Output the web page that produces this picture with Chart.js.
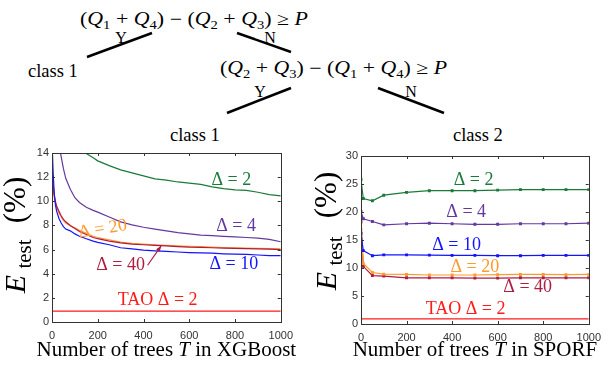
<!DOCTYPE html>
<html>
<head>
<meta charset="utf-8">
<script src="https://cdn.jsdelivr.net/npm/chart.js@4.4.1/dist/chart.umd.min.js"></script>
<style>
  body { margin: 0; background: #fff; width: 608px; height: 367px; overflow: hidden; position: relative; }
  #tree { position: absolute; left: 0; top: 0; }
  #c1 { position: absolute; left: 0; top: 140px; }
  #c2 { position: absolute; left: 300px; top: 140px; }
</style>
</head>
<body>
<svg id="tree" width="608" height="150" font-family="'Liberation Serif','Times New Roman',serif">
  <text x="80" y="25" font-size="18" textLength="228" lengthAdjust="spacingAndGlyphs">(<tspan font-style="italic">Q</tspan><tspan font-size="12" dy="4">1</tspan><tspan dy="-4"> + </tspan><tspan font-style="italic">Q</tspan><tspan font-size="12" dy="4">4</tspan><tspan dy="-4">) − (</tspan><tspan font-style="italic">Q</tspan><tspan font-size="12" dy="4">2</tspan><tspan dy="-4"> + </tspan><tspan font-style="italic">Q</tspan><tspan font-size="12" dy="4">3</tspan><tspan dy="-4">) ≥ </tspan><tspan font-style="italic">P</tspan></text>
  <text x="121" y="43" font-size="16" text-anchor="middle">Y</text>
  <text x="270" y="43" font-size="16" text-anchor="middle">N</text>
  <line x1="87" y1="57" x2="152" y2="33" stroke="#000" stroke-width="2.5"/>
  <line x1="237" y1="33" x2="291" y2="52" stroke="#000" stroke-width="2.5"/>
  <text x="28" y="77" font-size="18.5">class 1</text>
  <text x="220" y="74" font-size="18" textLength="227" lengthAdjust="spacingAndGlyphs">(<tspan font-style="italic">Q</tspan><tspan font-size="12" dy="4">2</tspan><tspan dy="-4"> + </tspan><tspan font-style="italic">Q</tspan><tspan font-size="12" dy="4">3</tspan><tspan dy="-4">) − (</tspan><tspan font-style="italic">Q</tspan><tspan font-size="12" dy="4">1</tspan><tspan dy="-4"> + </tspan><tspan font-style="italic">Q</tspan><tspan font-size="12" dy="4">4</tspan><tspan dy="-4">) ≥ </tspan><tspan font-style="italic">P</tspan></text>
  <text x="260" y="97" font-size="16" text-anchor="middle">Y</text>
  <text x="411" y="97" font-size="16" text-anchor="middle">N</text>
  <line x1="227" y1="113" x2="291" y2="88" stroke="#000" stroke-width="2.5"/>
  <line x1="378" y1="88" x2="444" y2="113" stroke="#000" stroke-width="2.5"/>
  <text x="170" y="141" font-size="18.5">class 1</text>
  <text x="453" y="141" font-size="18.5">class 2</text>
</svg>
<canvas id="c1" width="300" height="227"></canvas>
<canvas id="c2" width="308" height="227"></canvas>
<script>
// XGBoost panel
var xgbTrees = [1, 5, 10, 15, 20, 30, 40, 50, 60, 80, 100, 120, 150, 180, 200, 250, 300, 350, 400, 450, 500, 550, 600, 650, 700, 750, 800, 850, 900, 950, 1000];
var xgbD2 = [19.5, 19.2, 18.9, 18.6, 18.3, 17.7, 17.2, 16.8, 16.4, 15.7, 15.1, 14.6, 13.95, 13.6, 13.35, 12.95, 12.6, 12.35, 12.1, 11.85, 11.75, 11.6, 11.5, 11.4, 11.2, 11.05, 10.95, 10.9, 10.75, 10.55, 10.45];
var xgbD4 = [19.0, 18.5, 17.8, 17.1, 16.4, 14.8, 13.7, 12.7, 11.9, 11.0, 10.3, 9.9, 9.5, 9.25, 9.1, 8.7, 8.3, 8.05, 7.85, 7.7, 7.55, 7.4, 7.3, 7.2, 7.15, 7.1, 7.05, 7.0, 6.95, 6.85, 6.65];
var xgbD10 = [14.5, 12.4, 10.6, 9.7, 9.2, 8.6, 8.2, 7.9, 7.7, 7.55, 7.3, 7.1, 6.9, 6.7, 6.6, 6.4, 6.15, 6.05, 5.95, 5.9, 5.85, 5.8, 5.75, 5.72, 5.7, 5.65, 5.62, 5.6, 5.55, 5.5, 5.5];
var xgbD20 = [12.0, 11.0, 10.3, 9.9, 9.5, 9.05, 8.7, 8.4, 8.2, 7.95, 7.8, 7.6, 7.35, 7.1, 7.0, 6.8, 6.62, 6.52, 6.45, 6.4, 6.35, 6.3, 6.27, 6.24, 6.2, 6.17, 6.15, 6.12, 6.1, 6.08, 6.05];
var xgbD40 = [12.3, 11.3, 10.5, 10.0, 9.6, 9.2, 8.8, 8.5, 8.3, 8.0, 7.75, 7.5, 7.25, 7.0, 6.9, 6.7, 6.55, 6.45, 6.4, 6.35, 6.3, 6.25, 6.2, 6.18, 6.15, 6.12, 6.1, 6.08, 6.05, 6.03, 6.0];
var taoTrees = [0, 1000];
var xgbTao = [0.9, 0.9];

// SPORF panel
var sporfTrees = [0, 10, 50, 100, 200, 300, 400, 500, 600, 700, 800, 900, 1000];
var sporfD2 = [25.8, 22.4, 22.0, 23.0, 23.5, 23.8, 23.8, 23.8, 23.9, 24.0, 24.0, 24.0, 24.0];
var sporfD4 = [20.1, 18.8, 18.3, 17.7, 17.9, 18.0, 17.9, 17.8, 17.8, 17.9, 17.9, 17.9, 18.0];
var sporfD10 = [16.2, 13.1, 12.2, 12.35, 12.35, 12.3, 12.25, 12.25, 12.2, 12.2, 12.25, 12.25, 12.25];
var sporfD20 = [16.9, 10.8, 9.2, 8.9, 8.85, 8.75, 8.75, 8.75, 8.8, 8.85, 8.85, 8.8, 8.85];
var sporfD40 = [18.2, 10.3, 8.65, 8.55, 8.25, 8.25, 8.25, 8.2, 8.2, 8.25, 8.25, 8.25, 8.25];
var sporfTao = [0.9, 0.9];

var GREEN = "#1b7a3a", PURPLE = "#6438a0", BLUE = "#1414ff", ORANGE = "#ff9a2e", DARKRED = "#b01c40", RED = "#ff1a1a";
var SERIF = "'Liberation Serif'";

function pts(xs, ys) {
  return xs.map(function (x, i) { return { x: x, y: ys[i] }; });
}

function line(xs, ys, color, marks) {
  return {
    data: pts(xs, ys),
    borderColor: color,
    backgroundColor: color,
    borderWidth: 1.2,
    pointRadius: marks ? 1.2 : 0,
    pointStyle: "rect",
    tension: 0,
    fill: false
  };
}

// box + inward tick marks, matlab style
function drawBox(chart) {
  var a = chart.chartArea, ctx = chart.ctx, sx = chart.scales.x, sy = chart.scales.y;
  ctx.save();
  ctx.strokeStyle = "#333";
  ctx.lineWidth = 1;
  ctx.beginPath();
  sx.ticks.forEach(function (t) {
    var p = Math.round(sx.getPixelForValue(t.value)) + 0.5;
    ctx.moveTo(p, a.bottom); ctx.lineTo(p, a.bottom - 3);
    ctx.moveTo(p, a.top); ctx.lineTo(p, a.top + 3);
  });
  sy.ticks.forEach(function (t) {
    var p = Math.round(sy.getPixelForValue(t.value)) + 0.5;
    ctx.moveTo(a.left, p); ctx.lineTo(a.left + 3, p);
    ctx.moveTo(a.right, p); ctx.lineTo(a.right - 3, p);
  });
  ctx.stroke();
  ctx.strokeRect(Math.round(a.left) + 0.5, Math.round(a.top) + 0.5, Math.round(a.right - a.left), Math.round(a.bottom - a.top));
  ctx.restore();
}

function drawNotes(chart, notes) {
  var ctx = chart.ctx, sx = chart.scales.x, sy = chart.scales.y;
  notes.forEach(function (n) {
    ctx.save();
    ctx.fillStyle = n.color;
    ctx.strokeStyle = n.color;
    if (n.arrow) {
      var x1 = sx.getPixelForValue(n.arrow[0]), y1 = sy.getPixelForValue(n.arrow[1]);
      var x2 = sx.getPixelForValue(n.arrow[2]), y2 = sy.getPixelForValue(n.arrow[3]);
      var ang = Math.atan2(y2 - y1, x2 - x1);
      ctx.lineWidth = 1.2;
      ctx.beginPath(); ctx.moveTo(x1, y1); ctx.lineTo(x2, y2); ctx.stroke();
      ctx.beginPath();
      ctx.moveTo(x2, y2);
      ctx.lineTo(x2 - 6 * Math.cos(ang - 0.4), y2 - 6 * Math.sin(ang - 0.4));
      ctx.lineTo(x2 - 6 * Math.cos(ang + 0.4), y2 - 6 * Math.sin(ang + 0.4));
      ctx.closePath(); ctx.fill();
    }
    ctx.translate(sx.getPixelForValue(n.x), sy.getPixelForValue(n.y));
    if (n.rot) ctx.rotate(n.rot * Math.PI / 180);
    ctx.font = "18px " + SERIF;
    ctx.textAlign = "center";
    ctx.textBaseline = "middle";
    ctx.fillText(n.text, 0, 0);
    ctx.restore();
  });
}

function drawTitles(chart, t) {
  var ctx = chart.ctx, a = chart.chartArea;
  ctx.save();
  ctx.fillStyle = "#000";
  // y title: E_test (%)
  ctx.translate(t.yx, 0);
  ctx.rotate(-Math.PI / 2);
  ctx.textAlign = "center";
  ctx.textBaseline = "alphabetic";
  ctx.font = "italic 30px " + SERIF;
  ctx.fillText("E", -t.yE, 0);
  ctx.font = "21px " + SERIF;
  ctx.fillText("test", -t.yT, 6);
  ctx.font = "31px " + SERIF;
  ctx.fillText("(%)", -t.yP, 0);
  ctx.restore();

  // x title
  ctx.save();
  ctx.fillStyle = "#000";
  ctx.textBaseline = "alphabetic";
  ctx.textAlign = "left";
  var parts = [["Number of trees ", "21px " + SERIF], ["T", "italic 21px " + SERIF], [" in " + t.model, "21px " + SERIF]];
  var w = 0;
  parts.forEach(function (p) { ctx.font = p[1]; w += ctx.measureText(p[0]).width; });
  var x = (a.left + a.right) / 2 - w / 2;
  parts.forEach(function (p) { ctx.font = p[1]; ctx.fillText(p[0], x, 216); x += ctx.measureText(p[0]).width; });
  ctx.restore();
}

function makeChart(id, datasets, yMax, yStep, yW, xH, pad, notes, titles) {
  var tickFont = { family: "'Liberation Sans', Arial, sans-serif", size: 11 };
  return new Chart(document.getElementById(id), {
    type: "line",
    data: { datasets: datasets },
    options: {
      responsive: false,
      animation: false,
      devicePixelRatio: 1,
      layout: { padding: pad },
      plugins: { legend: { display: false }, tooltip: { enabled: false } },
      scales: {
        x: {
          type: "linear", min: 0, max: 1000,
          ticks: { stepSize: 200, font: tickFont, color: "#333", padding: 7, maxRotation: 0, callback: function (v) { return String(v); } },
          grid: { display: false, drawTicks: false },
          border: { display: false },
          afterFit: function (s) { s.height = xH; }
        },
        y: {
          min: 0, max: yMax,
          ticks: { stepSize: yStep, font: tickFont, color: "#333", padding: 3, callback: function (v) { return String(v); } },
          grid: { display: false, drawTicks: false },
          border: { display: false },
          afterFit: function (s) { s.width = yW; }
        }
      }
    },
    plugins: [{
      id: "deco",
      afterDraw: function (chart) {
        drawBox(chart);
        drawNotes(chart, notes);
        drawTitles(chart, titles);
      }
    }]
  });
}

makeChart("c1", [
  line(taoTrees, xgbTao, RED, false),
  line(xgbTrees, xgbD2, GREEN, false),
  line(xgbTrees, xgbD4, PURPLE, false),
  line(xgbTrees, xgbD10, BLUE, false),
  line(xgbTrees, xgbD40, DARKRED, false),
  line(xgbTrees, xgbD20, ORANGE, false)
], 14, 2, 52, 45, { top: 13, right: 13, left: 0, bottom: 0 }, [
  { text: "Δ = 2", x: 784, y: 11.7, color: GREEN },
  { text: "Δ = 4", x: 805, y: 7.9, color: PURPLE },
  { text: "Δ = 20", x: 222, y: 7.7, color: ORANGE, rot: -9 },
  { text: "Δ = 40", x: 300, y: 4.7, color: DARKRED, arrow: [418, 4.7, 477, 6.3] },
  { text: "Δ = 10", x: 795, y: 4.8, color: BLUE },
  { text: "TAO Δ = 2", x: 462, y: 1.8, color: RED }
], { yx: 25, yE: 144, yT: 114, yP: 60, model: "XGBoost" });

makeChart("c2", [
  line(taoTrees, sporfTao, RED, false),
  line(sporfTrees, sporfD2, GREEN, true),
  line(sporfTrees, sporfD4, PURPLE, true),
  line(sporfTrees, sporfD10, BLUE, true),
  line(sporfTrees, sporfD20, ORANGE, true),
  line(sporfTrees, sporfD40, DARKRED, true)
], 30, 5, 61, 43, { top: 16, right: 11, left: 0, bottom: 0 }, [
  { text: "Δ = 2", x: 494, y: 25.7, color: GREEN },
  { text: "Δ = 4", x: 462, y: 20.0, color: PURPLE },
  { text: "Δ = 10", x: 420, y: 14.1, color: BLUE },
  { text: "Δ = 20", x: 500, y: 10.2, color: ORANGE },
  { text: "Δ = 40", x: 732, y: 6.6, color: DARKRED },
  { text: "TAO Δ = 2", x: 459, y: 2.7, color: RED }
], { yx: 36, yE: 141, yT: 111, yP: 55, model: "SPORF" });
</script>
</body>
</html>
